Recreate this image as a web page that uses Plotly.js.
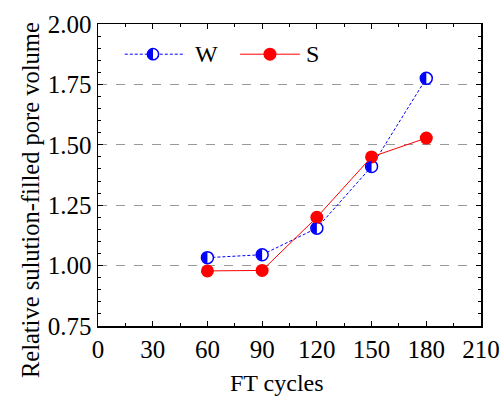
<!DOCTYPE html>
<html><head><meta charset="utf-8">
<script src="https://cdn.plot.ly/plotly-3.0.1.min.js"></script>
<style>html,body{margin:0;padding:0;background:#fff}#c{width:503px;height:397px}</style>
</head><body><div id="c"></div>
<script>
const cycles = [60, 90, 120, 150, 180];
const wValues = [1.033, 1.045, 1.155, 1.41, 1.775];
const sValues = [0.978, 0.980, 1.200, 1.450, 1.528];
const xTicks = [0, 30, 60, 90, 120, 150, 180, 210];
const yTicks = [0.75, 1.00, 1.25, 1.50, 1.75, 2.00];
const xTitle = 'FT cycles';
const yTitle = 'Relative sulution-filled pore volume';

const font = 'Liberation Serif, serif';
const BLUE = '#0000ff', RED = '#ff0000';

function halfDisc(r) {
  const pts = [];
  for (let i = 0; i <= 20; i++) {
    const t = -Math.PI / 2 + Math.PI * i / 20;
    pts.push([(-r * Math.cos(t)).toFixed(2), (r * Math.sin(t)).toFixed(2)]);
  }
  return 'M' + pts.map(p => p.join(',')).join('L') + 'Z';
}
function halfShape(xa, ya, xref, yref) {
  return {type: 'path', xref: xref, yref: yref, xsizemode: 'pixel', ysizemode: 'pixel',
          xanchor: xa, yanchor: ya, path: halfDisc(5.6), fillcolor: BLUE, line: {width: 0}, layer: 'above'};
}
function circleShape(xa, ya, r, fill, lineColor, lw) {
  return {type: 'circle', xref: 'paper', yref: 'paper', xsizemode: 'pixel', ysizemode: 'pixel',
          xanchor: xa, yanchor: ya, x0: -r, x1: r, y0: -r, y1: r,
          fillcolor: fill, line: {color: lineColor, width: lw}, layer: 'above'};
}

const traces = [
  {x: cycles, y: wValues, name: 'W', mode: 'lines+markers',
   line: {color: BLUE, width: 1, dash: '3px,2px'},
   marker: {symbol: 'circle', size: 12, color: '#ffffff', line: {color: BLUE, width: 1.5}}},
  {x: cycles, y: sValues, name: 'S', mode: 'lines+markers',
   line: {color: RED, width: 1},
   marker: {symbol: 'circle', size: 13, color: RED}}
];

const legY = 0.9;
const shapes = cycles.map((c, i) => halfShape(c, wValues[i], 'x', 'y'));
shapes.push({type: 'line', xref: 'paper', yref: 'paper', x0: 0.07, x1: 0.227, y0: legY, y1: legY,
             line: {color: BLUE, width: 1, dash: '3px,2px'}, layer: 'above'});
shapes.push(circleShape(0.1436, legY, 5.6, '#ffffff', BLUE, 1.5));
shapes.push(halfShape(0.1436, legY, 'paper', 'paper'));
shapes.push({type: 'line', xref: 'paper', yref: 'paper', x0: 0.371, x1: 0.527, y0: legY, y1: legY,
             line: {color: RED, width: 1}, layer: 'above'});
shapes.push(circleShape(0.449, legY, 6.5, RED, RED, 0));

const annotations = [
  {text: 'W', xref: 'paper', yref: 'paper', x: 0.247, y: legY, xanchor: 'left', yanchor: 'middle',
   showarrow: false, font: {family: font, size: 24, color: '#000'}},
  {text: 'S', xref: 'paper', yref: 'paper', x: 0.538, y: legY, xanchor: 'left', yanchor: 'middle',
   showarrow: false, font: {family: font, size: 24, color: '#000'}},
  {text: xTitle, xref: 'paper', yref: 'paper', x: 0.467, y: -0.189, xanchor: 'center', yanchor: 'middle',
   showarrow: false, font: {family: font, size: 24, color: '#000'}},
  {text: yTitle, xref: 'paper', yref: 'paper', x: -0.1775, y: 0.417, xanchor: 'center', yanchor: 'middle',
   textangle: -90, showarrow: false, font: {family: font, size: 24.5, color: '#000'}}
];

const layout = {
  width: 503, height: 397,
  margin: {l: 98, r: 22, t: 24, b: 71},
  paper_bgcolor: '#fff', plot_bgcolor: '#fff',
  font: {family: font, size: 25, color: '#000'},
  showlegend: false,
  shapes: shapes, annotations: annotations,
  xaxis: {range: [0, 210], tickvals: xTicks, ticktext: xTicks.map(String),
          ticks: 'inside', ticklen: 5, tickcolor: '#000', showline: true, linecolor: '#000', linewidth: 1.5,
          mirror: 'allticks', showgrid: false, zeroline: false,
          minor: {dtick: 15, ticks: 'inside', ticklen: 3, tickcolor: '#000'},
          tickfont: {family: font, size: 25}},
  yaxis: {range: [0.75, 2.0], tickvals: yTicks, ticktext: yTicks.map(v => v.toFixed(2)),
          ticks: 'inside', ticklen: 5, tickcolor: '#000', showline: true, linecolor: '#000', linewidth: 1.5,
          mirror: 'allticks', showgrid: true, gridcolor: '#999', griddash: 'dash', gridwidth: 1, zeroline: false,
          minor: {dtick: 0.05, ticks: 'inside', ticklen: 3, tickcolor: '#000', showgrid: false},
          tickfont: {family: font, size: 25}}
};
Plotly.newPlot('c', traces, layout, {staticPlot: true});
</script></body></html>
